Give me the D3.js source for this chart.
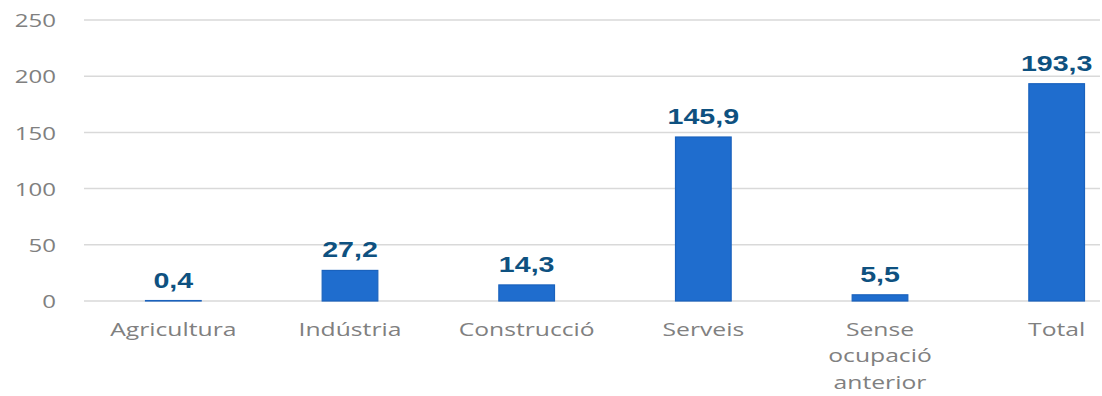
<!DOCTYPE html>
<html>
<head>
<meta charset="utf-8">
<script src="https://cdn.jsdelivr.net/npm/d3@7"></script>
<style>
  html, body { margin: 0; padding: 0; background: #fff; }
  svg { display: block; }
</style>
</head>
<body>
<svg id="chart" width="1102" height="396"></svg>
<script>
// Sectors (category labels; "\n" splits a label into lines)
const categories = ["Agricultura", "Indústria", "Construcció", "Serveis", "Sense\nocupació\nanterior", "Total"];
// Values per sector (thousands)
const values = [0.4, 27.2, 14.3, 145.9, 5.5, 193.3];
// Y axis ticks
const yTicks = [0, 50, 100, 150, 200, 250];

const svg = d3.select("#chart");

// Text is drawn slightly widened horizontally
const STRETCH = 1.3;

const x = d3.scaleBand()
  .domain(categories)
  .range([85, 1145])
  .paddingInner(0.685)
  .paddingOuter(0.3425);

const y = d3.scaleLinear()
  .domain([0, 250])
  .range([301, 20]);

const fmt = v => d3.format(".1f")(v).replace(".", ",");

// Gridlines
svg.append("g")
  .selectAll("line")
  .data(yTicks)
  .join("line")
  .attr("x1", 84)
  .attr("x2", 1100)
  .attr("y1", d => y(d))
  .attr("y2", d => y(d))
  .attr("stroke", "#d9d9d9")
  .attr("stroke-width", 1.5);

// Y axis labels
const yAxis = d3.axisLeft(y).tickValues(yTicks).tickSize(0).tickPadding(0);
svg.append("g")
  .attr("transform", "translate(56,0)")
  .call(yAxis)
  .call(g => g.select(".domain").remove())
  .call(g => g.selectAll("text")
    .attr("fill", "#808080")
    .attr("dy", "0.36em")
    .attr("transform", `scale(${STRETCH},1)`)
    .style("font-family", "'Open Sans', sans-serif")
    .style("font-size", "18.5px"));

// Bars
svg.append("g")
  .selectAll("rect")
  .data(values)
  .join("rect")
  .attr("x", (d, i) => x(categories[i]))
  .attr("width", x.bandwidth())
  .attr("y", d => y(d))
  .attr("height", d => y(0) - y(d))
  .attr("fill", "#1f6dce")
  .attr("stroke", "#1a62bd")
  .attr("stroke-width", 1.2);

// Value labels
svg.append("g")
  .selectAll("text")
  .data(values)
  .join("text")
  .attr("transform", (d, i) =>
    `translate(${x(categories[i]) + x.bandwidth() / 2},${y(d) - 13}) scale(${STRETCH},1)`)
  .attr("text-anchor", "middle")
  .attr("fill", "#0e5180")
  .style("font-family", "'Liberation Sans', Arial, sans-serif")
  .style("font-weight", "bold")
  .style("font-size", "22px")
  .text(d => fmt(d));

// Category labels
const catG = svg.append("g");
categories.forEach(c => {
  const t = catG.append("text")
    .attr("transform", `translate(${x(c) + x.bandwidth() / 2},336) scale(${STRETCH},1)`)
    .attr("text-anchor", "middle")
    .attr("fill", "#808080")
    .style("font-family", "'Open Sans', sans-serif")
    .style("font-size", "19px");
  c.split("\n").forEach((line, k) => {
    t.append("tspan")
      .attr("x", 0)
      .attr("dy", k === 0 ? 0 : 26.5)
      .text(line);
  });
});
</script>
</body>
</html>
